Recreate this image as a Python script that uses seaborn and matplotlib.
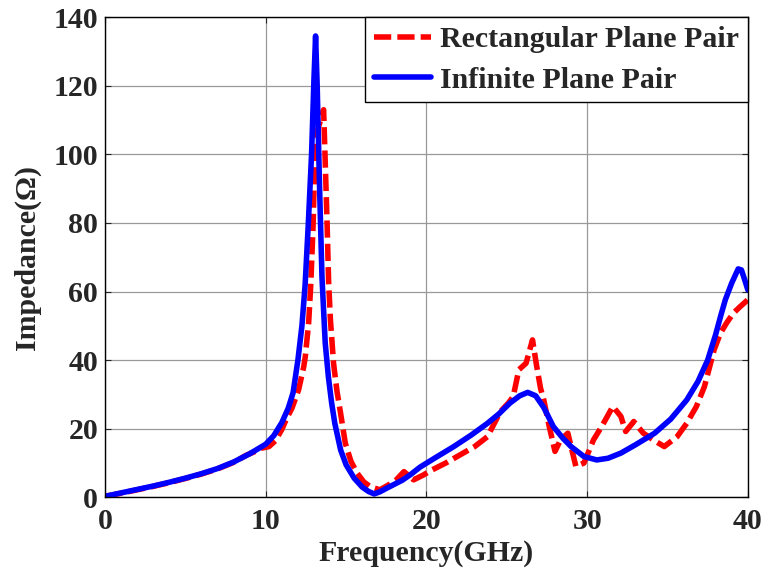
import pandas as pd
import matplotlib
matplotlib.use('Agg')
import matplotlib.pyplot as plt
import seaborn as sns

sns.set_style('ticks')
plt.rcParams['font.family'] = ['Liberation Serif', 'DejaVu Serif']
plt.rcParams['font.weight'] = 'bold'

# Rectangular plane pair (red dashed)
freq_rect = [0, 1, 2, 3, 4, 5, 6, 7, 8, 8.8, 9.3, 9.7, 10.2, 10.6, 11.0, 11.3, 11.63,
             12.04, 12.36, 12.46, 12.67, 12.8, 12.95, 13.08, 13.35, 13.6, 13.81, 13.91,
             14.02, 14.22, 14.43, 14.64, 14.95, 15.3, 15.68, 16.1, 16.5, 17.1, 17.6, 18.1,
             18.6, 19.2, 19.8, 20.35, 21.2, 22.1, 23.0, 23.8, 24.6, 25.1, 25.4, 25.75, 26.2,
             26.6, 26.85, 27.1, 27.3, 27.65, 28.0, 28.35, 28.8, 29.3, 29.8, 30.4, 30.9, 31.6,
             32.1, 32.4, 32.9, 33.5, 34.2, 34.8, 35.6, 36.2, 36.8, 37.3, 37.9, 38.3, 38.7,
             39.1, 39.5, 40]
imp_rect = [0.3, 1.2, 2.2, 3.2, 4.3, 5.5, 6.8, 8.3, 10.2, 12.3, 13.3, 14.3, 14.8, 16.5,
            19.8, 23.0, 26.0, 31.3, 38.0, 41.0, 51.0, 62.0, 80.0, 105.0, 109.0, 113.0, 81.0,
            63.0, 52.0, 39.0, 31.0, 25.0, 15.8, 10.5, 7.1, 4.5, 3.1, 2.2, 3.5, 5.0, 7.5, 5.1,
            6.5, 8.0, 10.0, 12.4, 14.8, 17.7, 25.0, 27.5, 29.4, 37.2, 39.1, 45.9, 38.5, 31.8,
            28.4, 20.5, 13.4, 16.8, 18.7, 9.0, 10.0, 16.8, 20.6, 26.5, 23.6, 19.2, 22.1, 18.7,
            16.5, 14.8, 17.7, 21.6, 26.5, 32.3, 43.0, 47.9, 51.0, 53.7, 55.5, 57.6]

# Infinite plane pair (blue solid)
freq_inf = [0, 1, 2, 3, 4, 5, 6, 7, 8, 9, 10, 10.5, 11.0, 11.4, 11.7, 12.0, 12.25, 12.45,
            12.65, 12.85, 13.0, 13.1, 13.2, 13.35, 13.5, 13.7, 13.9, 14.1, 14.3, 14.66, 15.0,
            15.5, 16.0, 16.4, 16.75, 17.1, 17.5, 18.0, 18.5, 19.0, 19.6, 20.5, 21.7, 22.8,
            23.8, 24.5, 25.2, 25.8, 26.3, 26.8, 27.3, 27.9, 28.5, 29.0, 29.8, 30.6, 31.3,
            32.1, 33.0, 34.2, 35.2, 36.2, 36.9, 37.5, 38.0, 38.3, 38.6, 39.0, 39.4, 39.6,
            39.8, 40]
imp_inf = [0.3, 1.3, 2.3, 3.3, 4.4, 5.6, 6.9, 8.4, 10.3, 12.7, 15.5, 18.0, 21.8, 26.0,
           30.5, 40.0, 50.0, 62.0, 80.0, 100.0, 122.0, 134.5, 120.0, 90.0, 64.0, 45.0, 35.0,
           27.5, 21.5, 13.8, 9.5, 5.6, 3.0, 1.7, 1.0, 1.6, 2.6, 3.8, 5.0, 6.6, 8.8, 11.4,
           14.8, 18.2, 21.6, 24.3, 27.5, 29.6, 30.6, 29.6, 26.2, 20.6, 17.2, 14.8, 11.9,
           10.9, 11.4, 12.9, 15.3, 18.7, 22.8, 28.4, 33.8, 40.0, 47.5, 52.7, 57.6, 62.5,
           66.6, 66.3, 63.5, 60.5]

x_ticks = [0, 10, 20, 30, 40]
y_ticks = [0, 20, 40, 60, 80, 100, 120, 140]

FS = 21.5
LW = 4.0

fig = plt.figure(figsize=(7.67, 5.71), dpi=100)
ax = fig.add_axes([0.137, 0.129, 0.838, 0.841])

sns.lineplot(x=freq_rect, y=imp_rect, ax=ax, color='#ff0000', lw=LW,
             label='Rectangular Plane Pair', sort=False)
ax.lines[-1].set_linestyle((0, (3.1, 1.1)))
sns.lineplot(x=freq_inf, y=imp_inf, ax=ax, color='#0000ff', lw=LW,
             label='Infinite Plane Pair', sort=False)

ax.set_xlim(0, 40)
ax.set_ylim(0, 140)
ax.set_xticks(x_ticks)
ax.set_yticks(y_ticks)
ax.grid(True, color='#999999', lw=0.9)
ax.set_axisbelow(True)
ax.tick_params(direction='in', length=4, width=0.8, top=True, right=True,
               labelsize=FS)
ax.tick_params(axis='x', pad=8)
ax.tick_params(axis='y', pad=5)
for lab in ax.get_xticklabels() + ax.get_yticklabels():
    lab.set_fontweight('bold')
for sp in ax.spines.values():
    sp.set_visible(True)
    sp.set_color('black')
    sp.set_linewidth(1.0)

ax.set_xlabel('Frequency(GHz)', fontsize=FS, fontweight='bold', labelpad=3)
ax.set_ylabel('Impedance(Ω)', fontsize=FS, fontweight='bold', labelpad=9)

leg = ax.legend(loc='upper right', fontsize=FS, frameon=True, fancybox=False,
                edgecolor='black', framealpha=1, borderaxespad=0, borderpad=0.3,
                handlelength=1.9, handletextpad=0.3, labelspacing=0.45)
leg.get_frame().set_linewidth(1.0)
for t in leg.get_texts():
    t.set_fontweight('bold')

fig.savefig('out.png', dpi=100)
